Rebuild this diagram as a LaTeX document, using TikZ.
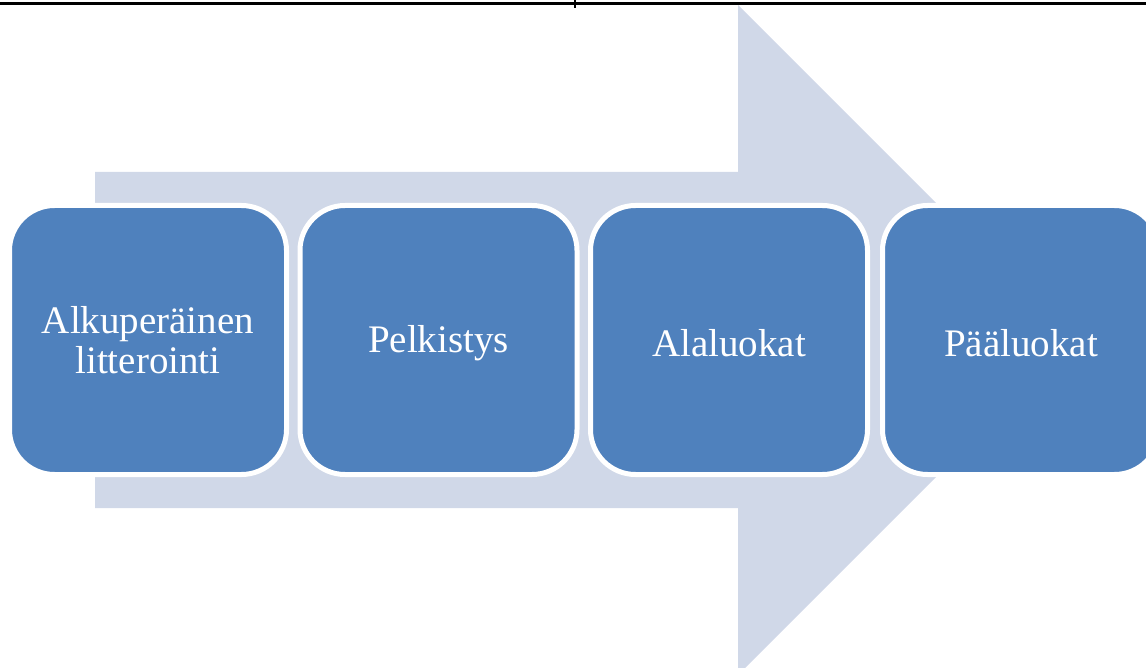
\documentclass[tikz,border=0pt]{standalone}
\usepackage{fontspec}
\setmainfont{Liberation Serif}
\usepackage{xcolor}
\usepackage{tikz}
\usetikzlibrary{positioning,calc}
\definecolor{stepBlue}{HTML}{4F81BD}
\definecolor{flowGrey}{HTML}{D0D8E8}

\begin{document}
\begin{tikzpicture}[x=1pt,y=-1pt,
    stage/.style={draw=white,line width=5pt,fill=stepBlue,rounded corners=45pt,
      minimum width=277pt,minimum height=269pt,inner sep=0pt,align=center,
      text=white,font=\fontsize{39}{40}\selectfont,
      execute at begin node={\rule{0pt}{33pt}}}]
  \clip (0,0) rectangle (1146,668);

  % table rule at the top
  \draw[line width=2.5pt] (0,3.5) -- (1146,3.5);
  \draw[line width=1.5pt] (575,0) -- (575,8);

  % big background arrow
  \fill[flowGrey] (95,172) -- (738,172) -- (738,5) -- (1073,340)
    -- (738,675) -- (738,508) -- (95,508) -- cycle;

  % process steps
  \foreach \i/\x/\lab in {1/148/{Alkuperäinen\\litterointi},2/438.5/Pelkistys,
      3/729/Alaluokat,4/1021/Pääluokat}{
    \node[stage] (step\i) at (\x,340) {\lab};
  }
\end{tikzpicture}
\end{document}
